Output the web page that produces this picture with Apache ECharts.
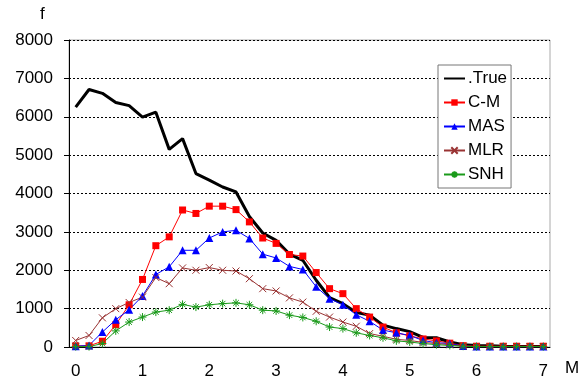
<!DOCTYPE html>
<html>
<head>
<meta charset="utf-8">
<script src="https://cdn.jsdelivr.net/npm/echarts@6/dist/echarts.min.js"></script>
<style>
  html, body { margin: 0; padding: 0; background: #fff; }
  #main { width: 588px; height: 384px; }
</style>
</head>
<body>
<div id="main"></div>
<script>
var categories = ['0', '0.2', '0.4', '0.6', '0.8', '1', '1.2', '1.4', '1.6', '1.8',
    '2', '2.2', '2.4', '2.6', '2.8', '3', '3.2', '3.4', '3.6', '3.8',
    '4', '4.2', '4.4', '4.6', '4.8', '5', '5.2', '5.4', '5.6', '5.8',
    '6', '6.2', '6.4', '6.6', '6.8', '7'];

var trueVals = [6250, 6710, 6610, 6370, 6290, 5990, 6120, 5150, 5430, 4520,
    4350, 4170, 4040, 3400, 2970, 2780, 2420, 2260, 1740, 1290,
    1130, 900, 830, 570, 480, 400, 250, 240, 130, 60,
    40, 30, 20, 15, 10, 10];
var cmVals = [30, 30, 150, 580, 1100, 1760, 2640, 2870, 3570, 3480,
    3670, 3670, 3580, 3260, 2840, 2700, 2410, 2370, 1940, 1520,
    1390, 1000, 780, 520, 370, 290, 210, 160, 100, 35,
    20, 20, 20, 20, 20, 20];
var masVals = [20, 40, 390, 710, 970, 1330, 1890, 2090, 2520, 2520,
    2840, 3000, 3040, 2830, 2420, 2320, 2100, 2020, 1570, 1260,
    1100, 840, 670, 440, 370, 300, 170, 110, 90, 25,
    10, 10, 10, 10, 10, 10];
var mlrVals = [170, 300, 760, 1000, 1160, 1300, 1810, 1650, 2060, 2000,
    2070, 2000, 1980, 1780, 1520, 1460, 1280, 1170, 930, 780,
    650, 540, 350, 280, 200, 170, 120, 90, 60, 20,
    10, 10, 10, 10, 10, 10];
var snhVals = [10, 10, 90, 420, 650, 780, 910, 960, 1110, 1040,
    1100, 1130, 1150, 1100, 960, 940, 830, 770, 670, 520,
    480, 370, 300, 240, 160, 130, 90, 60, 40, 20,
    10, 10, 10, 10, 10, 10];

var font = 'Liberation Sans, Arial, sans-serif';
var xMark = 'path://M0,0L10,10M10,0L0,10';
var starMark = 'path://M5,0L5,10M0,5L10,5M1.5,1.5L8.5,8.5M8.5,1.5L1.5,8.5';

var myChart = echarts.init(document.getElementById('main'));
var option = {
    animation: false,
    backgroundColor: '#fff',
    textStyle: { fontFamily: font },
    grid: {
        left: 69, right: 38, top: 40, bottom: 37,
        show: true, borderColor: '#aaa', borderWidth: 1
    },
    graphic: [
        { type: 'text', left: 40, top: 6, style: { text: 'f', font: '17px ' + font, fill: '#000' } },
        { type: 'text', left: 565, top: 360, style: { text: 'M', font: '17px ' + font, fill: '#000' } }
    ],
    legend: {
        orient: 'vertical',
        left: 438,
        top: 65,
        padding: [5, 4, 5, 5],
        itemGap: 7,
        itemWidth: 21,
        itemHeight: 8,
        backgroundColor: '#fff',
        borderColor: '#777',
        borderWidth: 1,
        textStyle: { fontSize: 17, fontFamily: font, color: '#000', padding: [0, 0, 0, -2] },
        data: [
            { name: '.True', itemStyle: { opacity: 0 } },
            'C-M', 'MAS', 'MLR', 'SNH'
        ]
    },
    xAxis: {
        type: 'category',
        data: categories,
        boundaryGap: true,
        axisLine: { lineStyle: { color: '#000', width: 1 } },
        axisTick: { interval: 0, length: 5, lineStyle: { color: '#000' } },
        axisLabel: { interval: 4, fontSize: 17, color: '#000', margin: 16, fontFamily: font },
        splitLine: { show: false }
    },
    yAxis: {
        type: 'value',
        min: 0,
        max: 8000,
        interval: 1000,
        axisLine: { show: true, lineStyle: { color: '#000', width: 1 } },
        axisTick: { show: true, length: 5, lineStyle: { color: '#000' } },
        axisLabel: {
            fontSize: 17, color: '#000', margin: 16, fontFamily: font,
            formatter: function (v) { return String(v); }
        },
        splitLine: { lineStyle: { color: '#000', width: 1, type: [2, 2] } }
    },
    series: [
        {
            name: '.True', type: 'line', data: trueVals,
            symbol: 'none',
            lineStyle: { color: '#000', width: 3 },
            itemStyle: { color: '#000' }
        },
        {
            name: 'C-M', type: 'line', data: cmVals,
            symbol: 'rect', symbolSize: 7, showAllSymbol: true,
            lineStyle: { color: '#ff0000', width: 1 },
            itemStyle: { color: '#ff0000' }
        },
        {
            name: 'MAS', type: 'line', data: masVals,
            symbol: 'triangle', symbolSize: 8, showAllSymbol: true,
            lineStyle: { color: '#0000ff', width: 1 },
            itemStyle: { color: '#0000ff' }
        },
        {
            name: 'MLR', type: 'line', data: mlrVals,
            symbol: xMark, symbolSize: 7, showAllSymbol: true,
            lineStyle: { color: '#993333', width: 1 },
            itemStyle: { color: 'rgba(0,0,0,0)', borderColor: '#993333', borderWidth: 1 }
        },
        {
            name: 'SNH', type: 'line', data: snhVals,
            symbol: starMark, symbolSize: 8, showAllSymbol: true,
            lineStyle: { color: '#1a9a1a', width: 1 },
            itemStyle: { color: 'rgba(0,0,0,0)', borderColor: '#1a9a1a', borderWidth: 1 }
        }
    ]
};
myChart.setOption(option);
</script>
</body>
</html>
